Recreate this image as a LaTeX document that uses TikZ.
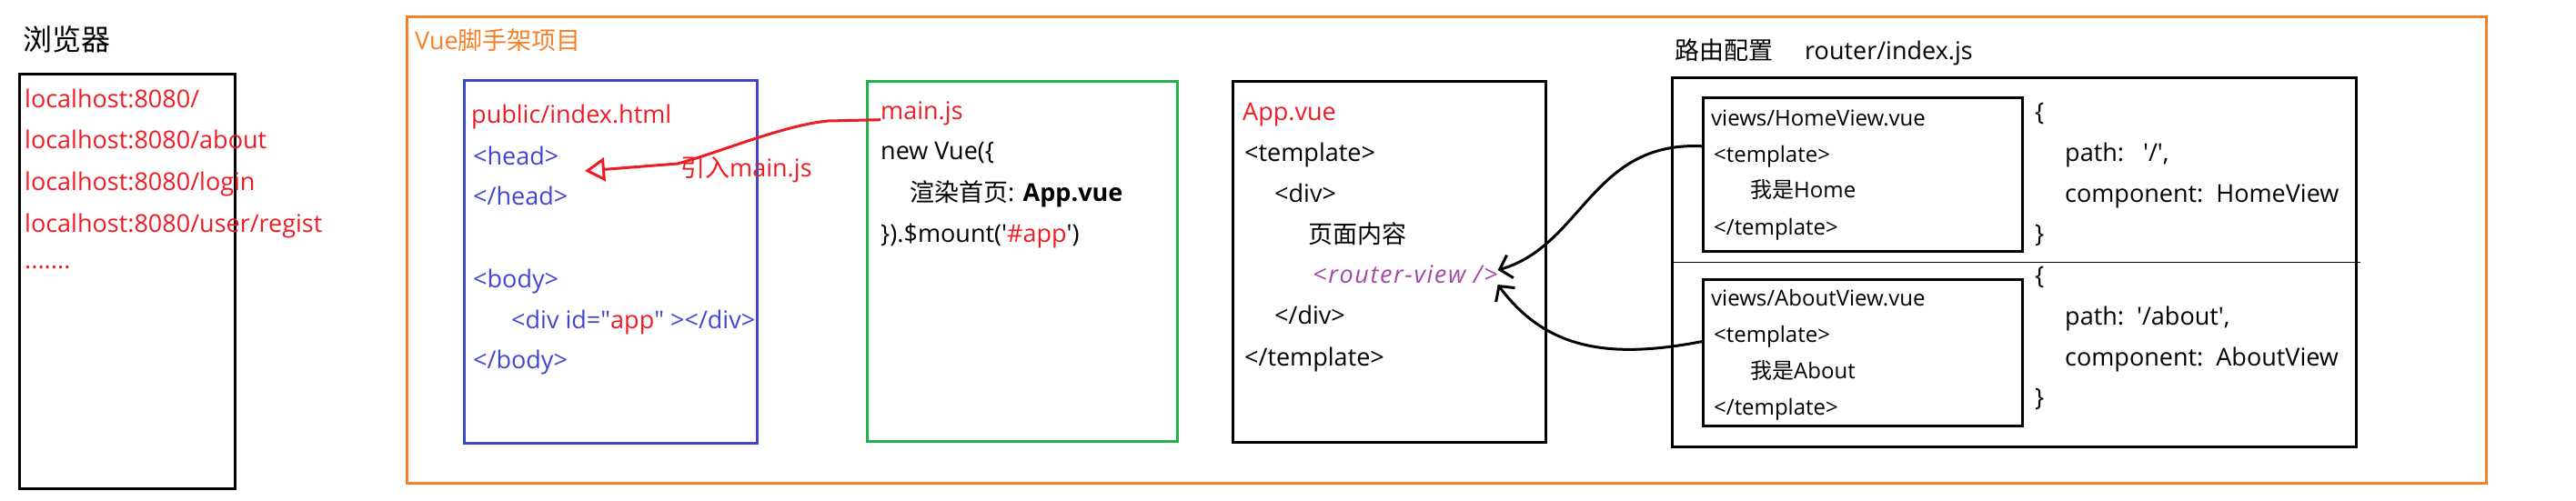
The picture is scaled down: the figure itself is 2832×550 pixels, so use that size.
\documentclass[tikz,border=0pt]{standalone}
\usepackage{fontspec}
\setmainfont{Open Sans}
\newfontfamily\zh{Noto Sans CJK SC}
\usetikzlibrary{arrows.meta}

\definecolor{vred}{RGB}{237,28,36}
\definecolor{vorange}{RGB}{247,128,40}
\definecolor{vblue}{RGB}{63,72,204}
\definecolor{vgreen}{RGB}{34,177,76}
\definecolor{vpurple}{RGB}{163,73,164}

\tikzset{
  codebox/.style={draw=#1, line width=3pt, inner sep=0pt, anchor=north west},
  txt/.style={anchor=west, inner sep=0pt, text height=19pt, text depth=0pt, font=\fontsize{27}{32}\selectfont},
  smalltxt/.style={txt, text height=17pt, font=\fontsize{24}{28}\selectfont},
}

\begin{document}
\begin{tikzpicture}[x=1pt, y=-1pt]
  \useasboundingbox (0,0) rectangle (2832,550);

  \node[codebox=vorange, minimum width=2286pt, minimum height=513pt] (project) at (446,17) {};
  \node[txt, text=vorange] (projtitle) at (456,45) {Vue{\zh 脚手架项目}};

  \node[txt, font=\zh\fontsize{32}{36}\selectfont] (browsertitle) at (25,46) {浏览器};
  \node[codebox=black, minimum width=237pt, minimum height=456pt] (browser) at (20,80) {};
  \node[txt, text=vred] (url1) at (27,109) {localhost:8080/};
  \node[txt, text=vred] (url2) at (27,154) {localhost:8080/about};
  \node[txt, text=vred] (url3) at (27,200) {localhost:8080/login};
  \node[txt, text=vred] (url4) at (27,246) {localhost:8080/user/regist};
  \node[txt, text=vred] (urlmore) at (27,286) {.......};

  \node[codebox=vblue, minimum width=322pt, minimum height=399pt] (indexbox) at (509,87) {};
  \node[txt, text=vred] (indexname) at (518,126) {public/index.html};
  \node[txt, text=vblue] (head) at (520,172) {<head>};
  \node[txt, text=vblue] (headend) at (520,216) {</head>};
  \node[txt, text=vblue] (body) at (520,307) {<body>};
  \node[txt, text=vblue] (appdiv) at (562,352) {<div id=\textquotedbl{\color{vred}app}\textquotedbl{} ></div>};
  \node[txt, text=vblue] (bodyend) at (520,396) {</body>};

  \node[codebox=vgreen, minimum width=341pt, minimum height=396pt] (mainbox) at (952,88) {};
  \node[txt, text=vred] (mainjs) at (968,122) {main.js};
  \node[txt] (newvue) at (968,166) {new Vue(\{};
  \node[txt] (render) at (1000,212) {{\zh 渲染首页}: \textbf{App.vue}};
  \node[txt] (mount) at (968,257) {\}).\$mount(\textquotesingle{\color{vred}\#app}\textquotesingle)};

  \node[codebox=black, minimum width=344pt, minimum height=397pt] (appbox) at (1354,88) {};
  \node[txt, text=vred] (appname) at (1366,123) {App.vue};
  \node[txt] (tpl) at (1368,168) {<template>};
  \node[txt] (div) at (1401,213) {<div>};
  \node[txt] (content) at (1438,258) {{\zh 页面内容}};
  \node[txt, text=vpurple, font=\itshape\fontsize{27}{32}\selectfont\addfontfeature{LetterSpace=6}] (rv) at (1443,302) {<router-view />};
  \node[txt] (divend) at (1401,347) {</div>};
  \node[txt] (tplend) at (1368,393) {</template>};

  \node[txt] (routertitle) at (1841,56) {{\zh 路由配置}\hspace{35pt}router/index.js};
  \node[codebox=black, minimum width=752pt, minimum height=406pt] (routerbox) at (1837,84) {};
  \draw[line width=1pt] (routerbox.west) -- ([xshift=3pt]routerbox.east);

  \node[codebox=black, minimum width=351pt, minimum height=169pt] (homebox) at (1871,106) {};
  \node[smalltxt] (homename) at (1881,130) {views/HomeView.vue};
  \node[smalltxt] (hometpl) at (1884,170) {<template>};
  \node[smalltxt] (hometext) at (1924,209) {{\zh 我是}Home};
  \node[smalltxt] (hometplend) at (1884,250) {</template>};

  \node[codebox=black, minimum width=351pt, minimum height=161pt] (aboutbox) at (1871,306) {};
  \node[smalltxt] (aboutname) at (1881,328) {views/AboutView.vue};
  \node[smalltxt] (abouttpl) at (1884,368) {<template>};
  \node[smalltxt] (abouttext) at (1924,408) {{\zh 我是}About};
  \node[smalltxt] (abouttplend) at (1884,448) {</template>};

  \node[txt] (homeopen) at (2237,123) {\{};
  \node[txt] (homepath) at (2270,168) {path:\ \ \ \textquotesingle/\textquotesingle,};
  \node[txt] (homecomp) at (2270,213) {component:\ \ HomeView};
  \node[txt] (homeclose) at (2237,257) {\}};
  \node[txt] (aboutopen) at (2237,303) {\{};
  \node[txt] (aboutpath) at (2270,348) {path:\ \ \textquotesingle/about\textquotesingle,};
  \node[txt] (aboutcomp) at (2270,393) {component:\ \ AboutView};
  \node[txt] (aboutclose) at (2237,437) {\}};

  \coordinate (headtip) at (643,188);
  \draw[vred, line width=3pt, -{Triangle[open, length=22pt, width=26pt]}] (mainjs.south west) -- (910,133) .. controls (860,138) and (790,168) .. (745,180) -- (headtip);
  \node[txt, text=vred] (include) at (748,185) {{\zh 引入}main.js};

  \draw[line width=3pt, -{Straight Barb[length=12pt, width=26pt]}] (homebox.170) .. controls (1750,155) and (1740,270) .. ([yshift=5pt]rv.east);
  \draw[line width=3pt, -{Straight Barb[length=12pt, width=26pt]}] (aboutbox.176) .. controls (1770,395) and (1700,385) .. ([yshift=-11pt]rv.east);
\end{tikzpicture}
\end{document}
